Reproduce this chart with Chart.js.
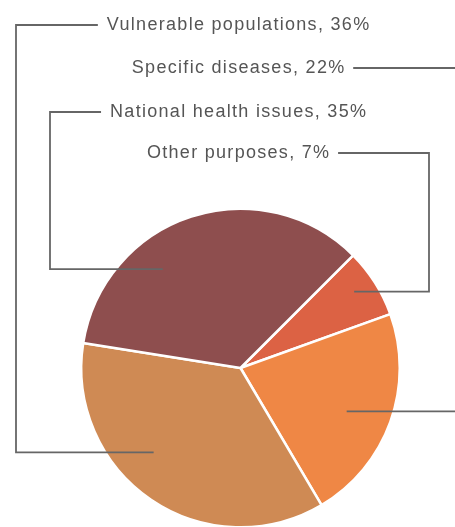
<!DOCTYPE html>
<html>
<head>
<meta charset="utf-8">
<script src="https://cdn.jsdelivr.net/npm/chart.js@4.4.1/dist/chart.umd.min.js"></script>
<style>
  html, body { margin: 0; padding: 0; background: #ffffff; overflow: hidden; }
  #wrap { position: relative; width: 455px; height: 560px; }
</style>
</head>
<body>
<div id="wrap"><canvas id="c" width="455" height="560"></canvas></div>
<script>
// ---- Data ----
const categories = ["Other purposes", "Specific diseases", "Vulnerable populations", "National health issues"];
const shares = [7, 22, 36, 35];
const sliceColors = ["#dc6244", "#ef8745", "#cf8a54", "#8e4e4e"];

// ---- Label layout (callout rows, top to bottom) ----
const labelOrder = [2, 1, 3, 0];          // index into categories
const labelRowY = [25, 68, 112, 153];     // y of each text row
const labelSide = ["left", "right", "left", "right"];
const labelElbowX = [16, 462, 50, 429];   // x of vertical leader segment
const anchorAngleFrac = [0.59, 0.53, 0.34, 0.44]; // position inside slice (angle fraction)
const anchorRadiusFrac = [0.76, 0.72, 0.79, 0.86];

const calloutPlugin = {
  id: 'callouts',
  afterDraw(chart) {
    const ctx = chart.ctx;
    const meta = chart.getDatasetMeta(0);
    ctx.save();
    const spacing = 1.3;
    ctx.font = '18px "Liberation Sans", Arial, sans-serif';
    ctx.letterSpacing = spacing + 'px';
    ctx.fillStyle = '#555555';
    ctx.textBaseline = 'middle';
    ctx.textAlign = 'left';
    ctx.strokeStyle = '#666666';
    ctx.lineWidth = 1.8;
    const cx = 238;
    labelOrder.forEach((idx, row) => {
      const text = categories[idx] + ', ' + shares[idx] + '%';
      const w = ctx.measureText(text).width - spacing;
      const y = labelRowY[row];
      const x0 = cx - w / 2;
      ctx.fillText(text, x0, y);
      const arc = meta.data[idx];
      const p = arc.getProps(['x', 'y', 'startAngle', 'endAngle', 'outerRadius'], true);
      const a = p.startAngle + anchorAngleFrac[row] * (p.endAngle - p.startAngle);
      const r = anchorRadiusFrac[row] * p.outerRadius;
      const ax = p.x + Math.cos(a) * r;
      const ay = p.y + Math.sin(a) * r;
      const gap = 9;
      const startX = labelSide[row] === 'left' ? x0 - gap : x0 + w + gap;
      const ex = labelElbowX[row];
      ctx.beginPath();
      ctx.moveTo(startX, y);
      ctx.lineTo(ex, y);
      ctx.lineTo(ex, ay);
      ctx.lineTo(ax, ay);
      ctx.stroke();
    });
    ctx.restore();
  }
};

new Chart(document.getElementById('c'), {
  type: 'pie',
  data: {
    labels: categories,
    datasets: [{
      data: shares,
      backgroundColor: sliceColors,
      borderColor: '#ffffff',
      borderWidth: 2.5
    }]
  },
  options: {
    responsive: false,
    animation: false,
    rotation: 45,
    layout: { padding: { left: 80, right: 54, top: 207, bottom: 31 } },
    plugins: {
      legend: { display: false },
      tooltip: { enabled: false },
      title: { display: false }
    }
  },
  plugins: [calloutPlugin]
});
</script>
</body>
</html>
